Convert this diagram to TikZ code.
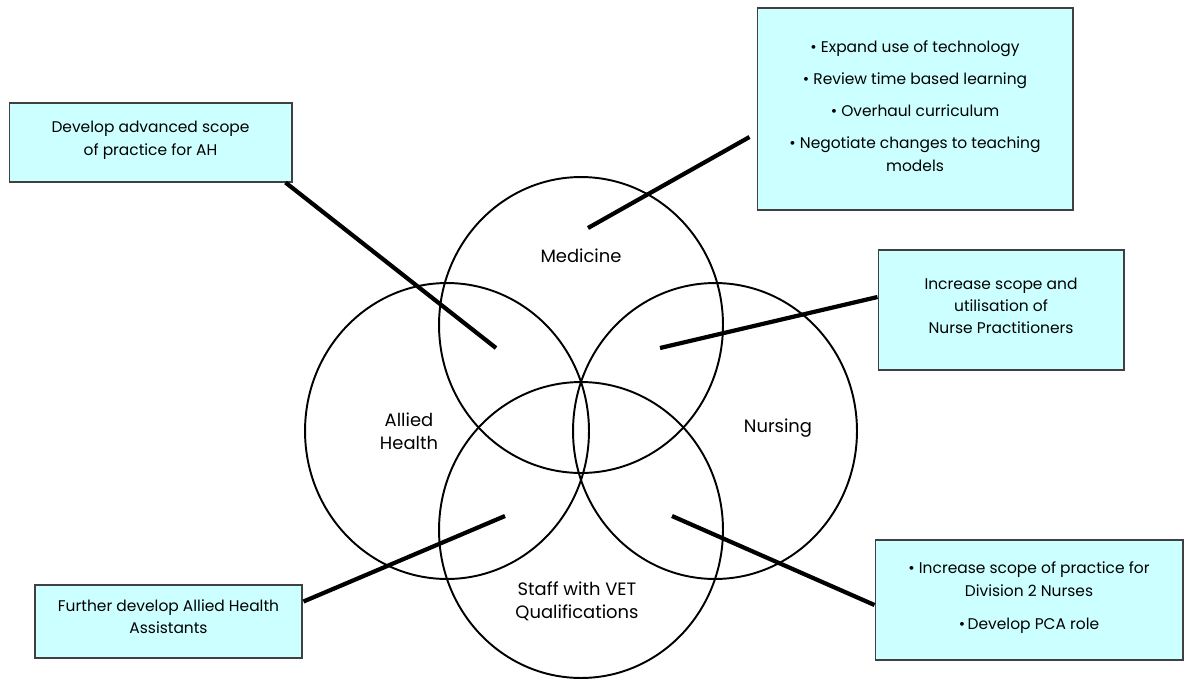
\documentclass[tikz,border=0pt]{standalone}
\usepackage{fontspec}
\setmainfont{Poppins}
\usepackage{tikz}
\usetikzlibrary{shapes.geometric, calc}
\definecolor{boxcyan}{HTML}{CCFFFF}
\definecolor{boxline}{gray}{0.25}

\begin{document}
\begin{tikzpicture}[x=0.02cm, y=-0.02cm,
box/.style={
draw=boxline,
fill=boxcyan,
line width=0.6pt,
align=center,
inner sep=0pt,
font=\fontsize{8.8}{12.8}\selectfont
},
ring/.style={draw, ellipse, line width=1.1pt, inner sep=0pt,
minimum width=5.68cm, minimum height=5.92cm},
areatext/.style={align=center, font=\fontsize{10.2}{13}\selectfont},
link/.style={line width=2.4pt}]

\useasboundingbox (0,0) rectangle (1190,680);

% areas
\node[ring] (medicine) at (581,325) {};
\node[ring] (allied) at (447,431) {};
\node[ring] (nursing) at (715,431) {};
\node[ring] (vet) at (581,530) {};

\node[areatext] (medText) at (581,256) {Medicine};
\node[areatext] (alliedText) at (409,431) {Allied\\Health};
\node[areatext] (nursingText) at (778,428) {Nursing};
\node[areatext] (vetText) at (577,601) {Staff with VET\\Qualifications};

% initiatives
\node[box, minimum width=6.32cm, minimum height=4.04cm] (medBox) at (915,109) {
\textbullet\ Expand use of technology\\[5.5pt]
\textbullet\ Review time based learning\\[5.5pt]
\textbullet\ Overhaul curriculum\\[5.5pt]
\textbullet\ Negotiate changes to teaching\\
models\\[-9pt]
};
\node[box, minimum width=5.66cm, minimum height=1.58cm] (ahBox) at (150.5,142.5) {
Develop advanced scope\\
of practice for AH\\[-8pt]
};
\node[box, minimum width=4.92cm, minimum height=2.4cm] (npBox) at (1001,310) {
Increase scope and\\
utilisation of\\
Nurse Practitioners\\[-8pt]
};
\node[box, minimum width=6.16cm, minimum height=2.4cm] (div2Box) at (1029,600) {
\textbullet\ Increase scope of practice for\\
Division 2 Nurses\\[6pt]
\textbullet\,Develop PCA role\\[-8pt]
};
\node[box, minimum width=5.34cm, minimum height=1.46cm] (ahaBox) at (168.5,621.5) {
Further develop Allied Health\\
Assistants\\[-7pt]
};

% free ends inside the circles
\coordinate (medEnd) at (588,228);
\coordinate (ahEnd) at (496,348);
\coordinate (npEnd) at (660,348);
\coordinate (ahaEnd) at (505,516);
\coordinate (div2End) at (672,516);

% connections
\draw[link] ($(medBox.west)+(-7,28)$) -- (medEnd);
\draw[link] ($(ahBox.south east)+(-7,0)$) -- (ahEnd);
\draw[link] ($(npBox.west)+(0,-13)$) -- (npEnd);
\draw[link] ($(ahaBox.east)+(1,-20)$) -- (ahaEnd);
\draw[link] ($(div2Box.west)+(0,5)$) -- (div2End);

\end{tikzpicture}
\end{document}
